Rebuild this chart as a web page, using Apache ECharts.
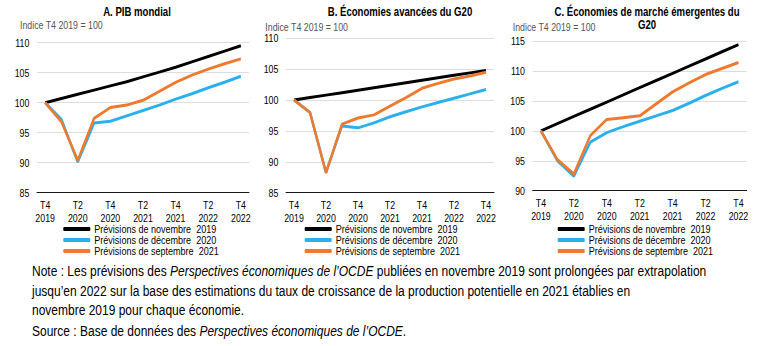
<!DOCTYPE html>
<html>
<head>
<meta charset="utf-8">
<script src="https://cdn.jsdelivr.net/npm/echarts@6/dist/echarts.min.js"></script>
<style>
  html, body { margin: 0; padding: 0; background: #fff; overflow: hidden; width: 759px; height: 346px; }
  /* The chart is laid out wider and condensed horizontally, giving narrow lettering */
  #chart { width: 948.75px; height: 346px; transform: scaleX(0.8); transform-origin: 0 0; }
</style>
</head>
<body>
<div id="chart"></div>
<script>
// Quarters from T4 2019 to T4 2022
const quarters = ['T4\n2019', 'T1\n2020', 'T2\n2020', 'T3\n2020', 'T4\n2020', 'T1\n2021', 'T2\n2021',
                  'T3\n2021', 'T4\n2021', 'T1\n2022', 'T2\n2022', 'T3\n2022', 'T4\n2022'];

const seriesNames = ['Prévisions de novembre  2019', 'Prévisions de décembre  2020', 'Prévisions de septembre  2021'];

// A. PIB mondial
const worldNov2019 = [100, 100.7, 101.4, 102.1, 102.8, 103.5, 104.3, 105.1, 105.9, 106.8, 107.7, 108.6, 109.5];
const worldDec2020 = [100, 97.2, 90.1, 96.6, 96.9, 97.8, 98.7, 99.6, 100.6, 101.5, 102.5, 103.4, 104.4];
const worldSep2021 = [100, 96.8, 90.4, 97.4, 99.2, 99.6, 100.4, 101.9, 103.4, 104.6, 105.6, 106.5, 107.3];

// B. Économies avancées du G20
const advNov2019 = [100, 100.4, 100.8, 101.2, 101.6, 102.0, 102.4, 102.8, 103.2, 103.6, 104.0, 104.4, 104.8];
const advDec2020 = [100, 98.0, 88.3, 95.8, 95.5, 96.3, 97.3, 98.1, 98.9, 99.6, 100.3, 101.0, 101.7];
const advSep2021 = [100, 98.0, 88.2, 96.1, 97.1, 97.6, 99.0, 100.4, 101.9, 102.7, 103.4, 103.9, 104.5];

// C. Économies de marché émergentes du G20
const emeNov2019 = [100, 101.2, 102.4, 103.6, 104.8, 106.0, 107.2, 108.4, 109.6, 110.8, 112.0, 113.2, 114.4];
const emeDec2020 = [100, 95.0, 92.4, 98.1, 99.7, 100.7, 101.6, 102.5, 103.4, 104.6, 105.9, 107.1, 108.2];
const emeSep2021 = [100, 95.2, 92.8, 99.2, 101.9, 102.2, 102.5, 104.5, 106.5, 108.0, 109.4, 110.4, 111.4];

const yRanges = [[85, 110], [85, 110], [90, 115]];
const titles = ['A. PIB mondial', 'B. Économies avancées du G20', 'C. Économies de marché émergentes du\nG20'];
const unitLabel = 'Indice T4 2019 = 100';

// horizontal condensation factor (must equal the CSS scaleX)
const S = 0.8;
const sx = v => v / S;

const FONT = '"Liberation Sans", Arial, Helvetica, sans-serif';
const colors = ['#000000', '#2CB0EC', '#EE7A2E'];

const panels = [
  { data: [worldNov2019, worldDec2020, worldSep2021], grid: { left: 37, top: 42.7, width: 212, height: 150 },
    titleX: 137, unitX: 20, unitY: 19.5, legendX: 63.3 },
  { data: [advNov2019, advDec2020, advSep2021], grid: { left: 286, top: 38.3, width: 208, height: 154.4 },
    titleX: 400, unitX: 265.3, unitY: 20.7, legendX: 304.7 },
  { data: [emeNov2019, emeDec2020, emeSep2021], grid: { left: 532.7, top: 41, width: 214, height: 149.7 },
    titleX: 647, unitX: 512.7, unitY: 21.5, legendX: 557.7 }
];

const grids = [], xAxes = [], yAxes = [], series = [], legends = [], titleList = [];

panels.forEach((p, i) => {
  grids.push({ left: sx(p.grid.left), top: p.grid.top, width: sx(p.grid.width), height: p.grid.height });
  xAxes.push({
    type: 'category', gridIndex: i, data: quarters, boundaryGap: true,
    axisLine: { lineStyle: { color: '#000', width: 1 } },
    axisTick: { inside: true, length: 3, lineStyle: { color: '#000' } },
    axisLabel: { interval: 1, color: '#000', fontFamily: FONT, fontSize: 11, lineHeight: 13, margin: 5.5 }
  });
  yAxes.push({
    type: 'value', gridIndex: i, min: yRanges[i][0], max: yRanges[i][1], interval: 5,
    axisLine: { show: false }, axisTick: { show: false },
    axisLabel: { color: '#000', fontFamily: FONT, fontSize: 11, margin: sx(7.7) },
    splitLine: { lineStyle: { color: '#d9d9d9', width: 1 } }
  });
  p.data.forEach((vals, k) => {
    series.push({
      name: seriesNames[k], type: 'line', xAxisIndex: i, yAxisIndex: i, data: vals,
      symbol: 'none', smooth: false, z: 2 + k,
      lineStyle: { color: colors[k], width: 3 }, itemStyle: { color: colors[k] }
    });
  });
  legends.push({
    orient: 'vertical', left: sx(p.legendX), top: 223.5, padding: 0, itemGap: 0,
    itemWidth: sx(27), itemHeight: 4, icon: 'roundRect', data: seriesNames, selectedMode: false,
    textStyle: { fontFamily: FONT, fontSize: 11.3, color: '#000', lineHeight: 10.5 }
  });
  titleList.push({
    text: titles[i], left: sx(p.titleX), top: 5, padding: 0, textAlign: 'center',
    textStyle: { fontFamily: FONT, fontSize: 12, fontWeight: 'bold', color: '#000', lineHeight: 13 }
  });
  titleList.push({
    text: unitLabel, left: sx(p.unitX), top: p.unitY, padding: 0,
    textStyle: { fontFamily: FONT, fontSize: 11, fontWeight: 'normal', color: '#555', lineHeight: 12 }
  });
});

const noteRich = {
  n: { fontFamily: FONT, fontSize: 15, color: '#333', lineHeight: 18 },
  i: { fontFamily: FONT, fontSize: 15, color: '#333', lineHeight: 18, fontStyle: 'italic' }
};

const chart = echarts.init(document.getElementById('chart'), null, { renderer: 'svg' });
chart.setOption({
  animation: false,
  backgroundColor: '#fff',
  title: titleList,
  legend: legends,
  grid: grids,
  xAxis: xAxes,
  yAxis: yAxes,
  series: series,
  graphic: [
    { type: 'text', left: sx(32), top: 264, style: {
        text: '{n|Note : Les prévisions des }{i|Perspectives économiques de l’OCDE}{n| publiées en novembre 2019 sont prolongées par extrapolation}',
        rich: noteRich } },
    { type: 'text', left: sx(32), top: 284, style: {
        text: '{n|jusqu’en 2022 sur la base des estimations du taux de croissance de la production potentielle en 2021 établies en}',
        rich: noteRich } },
    { type: 'text', left: sx(32), top: 303, style: {
        text: '{n|novembre 2019 pour chaque économie.}', rich: noteRich } },
    { type: 'text', left: sx(32), top: 324, style: {
        text: '{n|Source : Base de données des }{i|Perspectives économiques de l’OCDE}{n|.}', rich: noteRich } }
  ]
});
</script>
</body>
</html>
